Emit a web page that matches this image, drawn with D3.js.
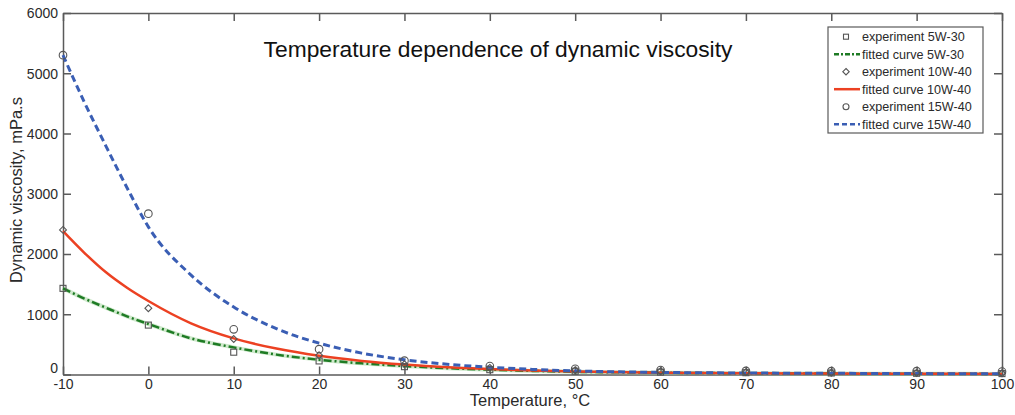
<!DOCTYPE html>
<html>
<head>
<meta charset="utf-8">
<script src="https://cdn.jsdelivr.net/npm/d3@7"></script>
<style>
  body { margin: 0; background: #fff; }
  text { font-family: Arial, "Liberation Sans", sans-serif; }
</style>
</head>
<body>
<div id="viz"></div>
<script>

const width = 1015
const height = 415

// temperature grid for the experiments
const temps = [-10, 0, 10, 20, 30, 40, 50, 60, 70, 80, 90, 100]

// measured viscosities, mPa.s
const exp5w30 = [1430, 820, 370, 225, 130, 80, 55, 40, 30, 25, 20, 15]
const exp10w40 = [2400, 1100, 590, 320, 170, 110, 70, 55, 40, 30, 25, 20]
const exp15w40 = [5300, 2670, 750, 420, 230, 140, 95, 75, 60, 55, 55, 50]

// fitted curves
const fitTemps = [-10, -7.5, -5, -2.5, 0, 5, 10, 15, 20, 25, 30, 35, 40, 45, 50, 60, 70, 80, 90, 100]
const fit5w30 = [1430, 1260, 1110, 965, 838, 600, 450, 330, 245, 185, 140, 105, 80, 60, 45, 30, 20, 15, 12, 10]
const fit10w40 = [2380, 2020, 1700, 1440, 1220, 850, 600, 430, 310, 225, 165, 120, 90, 65, 50, 30, 20, 15, 12, 10]
const fit15w40 = [5300, 4520, 3800, 3100, 2450, 1650, 1120, 760, 520, 355, 245, 170, 120, 85, 60, 35, 25, 20, 15, 12]

const xTicks = [-10, 0, 10, 20, 30, 40, 50, 60, 70, 80, 90, 100]
const yTicks = [0, 1000, 2000, 3000, 4000, 5000, 6000]

const axisColor = "#5a5a5a"
const textColor = "#2a2a2a"

const svg = d3.select("#viz").append("svg").attr("width", width).attr("height", height)

const plot = {left: 63, right: 1002, top: 13, bottom: 374.5}

const xScale = d3.scaleLinear().domain([-10, 100]).range([plot.left, plot.right])
const yScale = d3.scaleLinear().domain([0, 6000]).range([plot.bottom, plot.top])

const plainNum = d => String(d)

// axes, MATLAB style box with inward ticks
const xAxis = svg.append("g").attr("transform", `translate(0, ${plot.bottom})`)
    .call(d3.axisBottom(xScale).tickValues(xTicks).tickFormat(plainNum).tickSizeInner(-8).tickSizeOuter(0).tickPadding(5))
const xAxisTop = svg.append("g").attr("transform", `translate(0, ${plot.top})`)
    .call(d3.axisTop(xScale).tickValues(xTicks).tickSizeInner(-8).tickSizeOuter(0).tickFormat(""))
const yAxis = svg.append("g").attr("transform", `translate(${plot.left}, 0)`)
    .call(d3.axisLeft(yScale).tickValues(yTicks).tickFormat(plainNum).tickSizeInner(-8).tickSizeOuter(0).tickPadding(5))
const yAxisRight = svg.append("g").attr("transform", `translate(${plot.right}, 0)`)
    .call(d3.axisRight(yScale).tickValues(yTicks).tickSizeInner(-8).tickSizeOuter(0).tickFormat(""))

;[xAxis, xAxisTop, yAxis, yAxisRight].forEach(g => {
    g.selectAll("path, line").attr("stroke", axisColor).attr("stroke-width", 1.5)
    g.selectAll("text").attr("fill", textColor).attr("font-size", 14).attr("font-family", "Arial, 'Liberation Sans', sans-serif")
})
// the "0" label sits just above the x labels, as in the original
yAxis.selectAll("text").attr("dy", d => d === 0 ? "-0.15em" : "0.35em")

// fitted curves
const line = (vals) => d3.line().curve(d3.curveMonotoneX)(fitTemps.map((t, i) => [xScale(t), yScale(vals[i])]))

const curvesGroup = svg.append("g").attr("id", "curves")
// soft halo on the green line like in the scan
curvesGroup.append("path").attr("d", line(fit5w30)).attr("fill", "none").attr("stroke", "#9fd49a").attr("stroke-width", 4).attr("opacity", 0.5)
curvesGroup.append("path").attr("d", line(fit5w30)).attr("fill", "none").attr("stroke", "#1e7b24").attr("stroke-width", 2.5).attr("stroke-dasharray", "8,3,2,3")
curvesGroup.append("path").attr("d", line(fit10w40)).attr("fill", "none").attr("stroke", "#ec4122").attr("stroke-width", 2.5)
curvesGroup.append("path").attr("d", line(fit15w40)).attr("fill", "none").attr("stroke", "#3a5eb4").attr("stroke-width", 3).attr("stroke-dasharray", "7,4")

// experiment markers
const markerGroup = svg.append("g").attr("id", "markers")
const markerStyle = sel => sel.attr("fill", "none").attr("stroke", "#555").attr("stroke-width", 1.1)

markerStyle(markerGroup.selectAll(".sq").data(temps).enter().append("rect").attr("class", "sq")
    .attr("x", (d, i) => xScale(d) - 3).attr("y", (d, i) => yScale(exp5w30[i]) - 3)
    .attr("width", 6).attr("height", 6))
markerStyle(markerGroup.selectAll(".dm").data(temps).enter().append("path").attr("class", "dm")
    .attr("d", d3.symbol().type(d3.symbolDiamond2).size(30))
    .attr("transform", (d, i) => `translate(${xScale(d)}, ${yScale(exp10w40[i])})`))
markerStyle(markerGroup.selectAll(".ci").data(temps).enter().append("circle").attr("class", "ci")
    .attr("cx", d => xScale(d)).attr("cy", (d, i) => yScale(exp15w40[i])).attr("r", 3.8))

// title
svg.append("text").attr("x", 498).attr("y", 57).attr("text-anchor", "middle").attr("font-size", 22.8)
    .attr("fill", "#111").text("Temperature dependence of dynamic viscosity")

// axis labels
svg.append("text").attr("x", 530).attr("y", 406).attr("text-anchor", "middle").attr("font-size", 16.5)
    .attr("fill", textColor).text("Temperature, °C")
svg.append("text").attr("transform", `translate(22, 190) rotate(-90)`).attr("text-anchor", "middle").attr("font-size", 16.5)
    .attr("fill", textColor).text("Dynamic viscosity, mPa.s")

// legend
const legendItems = ["experiment 5W-30", "fitted curve 5W-30", "experiment 10W-40", "fitted curve 10W-40", "experiment 15W-40", "fitted curve 15W-40"]
const legend = svg.append("g").attr("id", "legend").attr("transform", `translate(828, 27)`)
legend.append("rect").attr("x", 0).attr("y", 0).attr("width", 155).attr("height", 106)
    .attr("fill", "#fff").attr("stroke", axisColor).attr("stroke-width", 1.2)
const rowY = i => 9.7 + i * 17.5
legend.selectAll("text").data(legendItems).enter().append("text")
    .attr("x", 34).attr("y", (d, i) => rowY(i)).attr("dy", "0.35em").attr("font-size", 12.6)
    .attr("fill", textColor).text(d => d)
markerStyle(legend.append("rect").attr("x", 15.5).attr("y", rowY(0) - 2.5).attr("width", 5).attr("height", 5))
legend.append("path").attr("d", `M6,${rowY(1)}H32`).attr("stroke", "#1e7b24").attr("stroke-width", 2.5).attr("stroke-dasharray", "5,2,2,2")
markerStyle(legend.append("path").attr("d", d3.symbol().type(d3.symbolDiamond2).size(26)).attr("transform", `translate(18, ${rowY(2)})`))
legend.append("path").attr("d", `M6,${rowY(3)}H32`).attr("stroke", "#ec4122").attr("stroke-width", 2.5)
markerStyle(legend.append("circle").attr("cx", 18).attr("cy", rowY(4)).attr("r", 3))
legend.append("path").attr("d", `M6,${rowY(5)}H32`).attr("stroke", "#3a5eb4").attr("stroke-width", 2.5).attr("stroke-dasharray", "5,3")

</script>
</body>
</html>
